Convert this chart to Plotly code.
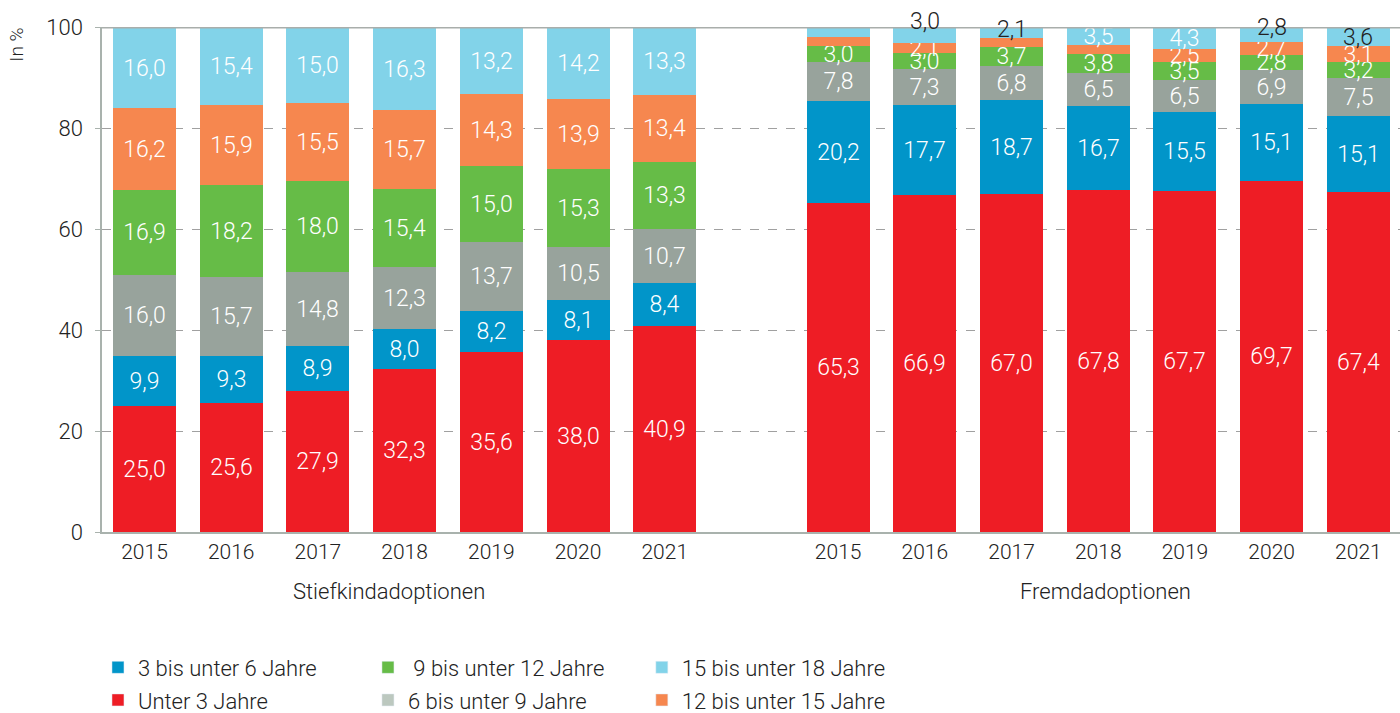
import plotly.graph_objects as go

years = ["2015", "2016", "2017", "2018", "2019", "2020", "2021"]
groups = ["Stiefkindadoptionen", "Fremdadoptionen"]

legend_labels = ["Unter 3 Jahre", "3 bis unter 6 Jahre", "6 bis unter 9 Jahre",
                 " 9 bis unter 12 Jahre", "12 bis unter 15 Jahre", "15 bis unter 18 Jahre"]
colors = ["#ee1d25", "#0195c9", "#98a39c", "#66bc47", "#f6874f", "#82d3e9"]
legend_colors = ["#ee1d25", "#0195c9", "#bcc8bf", "#66bc47", "#f6874f", "#82d3e9"]

# Stiefkindadoptionen
stief_u3 = [25.0, 25.6, 27.9, 32.3, 35.6, 38.0, 40.9]
stief_3_6 = [9.9, 9.3, 8.9, 8.0, 8.2, 8.1, 8.4]
stief_6_9 = [16.0, 15.7, 14.8, 12.3, 13.7, 10.5, 10.7]
stief_9_12 = [16.9, 18.2, 18.0, 15.4, 15.0, 15.3, 13.3]
stief_12_15 = [16.2, 15.9, 15.5, 15.7, 14.3, 13.9, 13.4]
stief_15_18 = [16.0, 15.4, 15.0, 16.3, 13.2, 14.2, 13.3]

# Fremdadoptionen
fremd_u3 = [65.3, 66.9, 67.0, 67.8, 67.7, 69.7, 67.4]
fremd_3_6 = [20.2, 17.7, 18.7, 16.7, 15.5, 15.1, 15.1]
fremd_6_9 = [7.8, 7.3, 6.8, 6.5, 6.5, 6.9, 7.5]
fremd_9_12 = [3.0, 3.0, 3.7, 3.8, 3.5, 2.8, 3.2]
fremd_12_15 = [1.9, 2.1, 1.7, 1.7, 2.5, 2.7, 3.1]
fremd_15_18 = [1.8, 3.0, 2.1, 3.5, 4.3, 2.8, 3.6]

# which values are labelled in the source ("w" white inside, "b" black near top, "" none)
fremd_12_15_lab = ["", "w", "", "", "w", "w", "w"]
fremd_15_18_lab = ["", "b", "b", "w", "w", "b", "b"]
black_shift = [0, 10, 0, 0, 0, 3, -4]

stief = [stief_u3, stief_3_6, stief_6_9, stief_9_12, stief_12_15, stief_15_18]
fremd = [fremd_u3, fremd_3_6, fremd_6_9, fremd_9_12, fremd_12_15, fremd_15_18]

x_left = list(range(len(years)))
x_right = [i + len(years) + 1 for i in range(len(years))]
xs = x_left + x_right

FONT = "Roboto"
LABEL_SIZE = 23
def fmt(v):
    return f"{v:.1f}".replace(".", ",")

fig = go.Figure()
legend_of = {1: "legend", 0: "legend", 3: "legend2", 2: "legend2", 5: "legend3", 4: "legend3"}
rank_of = {1: 1, 0: 2, 3: 1, 2: 2, 5: 1, 4: 2}

for k in range(6):
    # left group
    fig.add_trace(go.Bar(
        x=x_left, y=stief[k], name=legend_labels[k], legendgroup=f"g{k}", showlegend=False,
        marker=dict(color=colors[k], line=dict(width=0)),
        text=[fmt(v) for v in stief[k]], textposition="inside", insidetextanchor="middle",
        textangle=0, constraintext="none", cliponaxis=False,
        textfont=dict(color="white", size=LABEL_SIZE, family=FONT, weight=300),
        width=0.727, legend=legend_of[k], hoverinfo="skip",
    ))
    # right group
    if k == 4:
        labs = fremd_12_15_lab
    elif k == 5:
        labs = fremd_15_18_lab
    else:
        labs = ["w"] * len(years)
    fig.add_trace(go.Bar(
        x=x_right, y=fremd[k], name=legend_labels[k], legendgroup=f"g{k}", showlegend=False,
        marker=dict(color=colors[k], line=dict(width=0)),
        text=[fmt(v) if l == "w" else " " for v, l in zip(fremd[k], labs)],
        textposition="inside", insidetextanchor="middle",
        textangle=0, constraintext="none", cliponaxis=False,
        textfont=dict(color="white", size=LABEL_SIZE, family=FONT, weight=300),
        width=0.727, legend=legend_of[k], hoverinfo="skip",
    ))

# legend entries (legend swatch colours as in the source)
for k in range(6):
    fig.add_trace(go.Bar(
        x=[None], y=[None], name=legend_labels[k], legendgroup=f"g{k}", showlegend=True,
        marker=dict(color=legend_colors[k]), legend=legend_of[k], legendrank=rank_of[k],
        hoverinfo="skip",
    ))

# black labels at the top of the Fremdadoptionen bars
for j, lab in enumerate(fremd_15_18_lab):
    if lab == "b":
        top = sum(f[j] for f in fremd)
        fig.add_annotation(x=x_right[j], y=top - fremd_15_18[j] / 2, text=fmt(fremd_15_18[j]),
                           showarrow=False, yshift=black_shift[j] + 4,
                           font=dict(color="#222222", size=LABEL_SIZE, family=FONT, weight=300))

# group labels
for g, xr in zip(groups, [x_left, x_right]):
    fig.add_annotation(x=sum(xr) / len(xr), y=-0.117, yref="paper", yanchor="middle",
                       xanchor="center", text=g, showarrow=False,
                       xshift=-16 if g == groups[0] else 7,
                       font=dict(color="#222222", size=22, family=FONT, weight=300))

fig.add_annotation(x=-0.0655, y=0.965, xref="paper", yref="paper", xanchor="center",
                   yanchor="middle", text="In %", textangle=-90,
                   showarrow=False, font=dict(color="#222222", size=19, family=FONT, weight=300))

fig.add_shape(type="line", xref="paper", yref="y", x0=0, x1=1, y0=100, y1=100,
              line=dict(color="#a9aeab", width=1.5))

legend_common = dict(orientation="v", yanchor="top", xanchor="left", y=-0.2268,
                     bgcolor="rgba(0,0,0,0)", tracegroupgap=1,
                     font=dict(color="#222222", size=22, family=FONT, weight=300),
                     traceorder="grouped", itemclick=False, itemdoubleclick=False)

fig.update_layout(
    width=1400, height=713, barmode="stack", bargap=0,
    plot_bgcolor="white", paper_bgcolor="white",
    margin=dict(l=102, r=0, t=27, b=181, autoexpand=False),
    font=dict(family=FONT, color="#222222"),
    legend=dict(x=-0.0031, **legend_common),
    legend2=dict(x=0.2049, **legend_common),
    legend3=dict(x=0.4159, **legend_common),
    xaxis=dict(range=[-0.49, 14.48], tickvals=xs, ticktext=years + years, showgrid=False,
               showline=True, linecolor="#a9b2ad", linewidth=1.5, ticks="", zeroline=False,
               automargin=False,
               tickfont=dict(size=21, color="#222222", family=FONT, weight=300)),
    yaxis=dict(range=[0, 100.15], tickvals=[0, 20, 40, 60, 80, 100], showgrid=True,
               gridcolor="#a0a0a0", griddash="dash", gridwidth=1, zeroline=False,
               showline=True, linecolor="#a9b2ad", linewidth=1.5, ticks="outside", ticklen=5,
               automargin=False, ticklabelstandoff=8,
               tickcolor="#a9b2ad", tickfont=dict(size=22, color="#222222", family=FONT, weight=300)),
)

fig.write_html("out.html", post_script="document.body.style.margin='0';",
               config={"displayModeBar": False})
